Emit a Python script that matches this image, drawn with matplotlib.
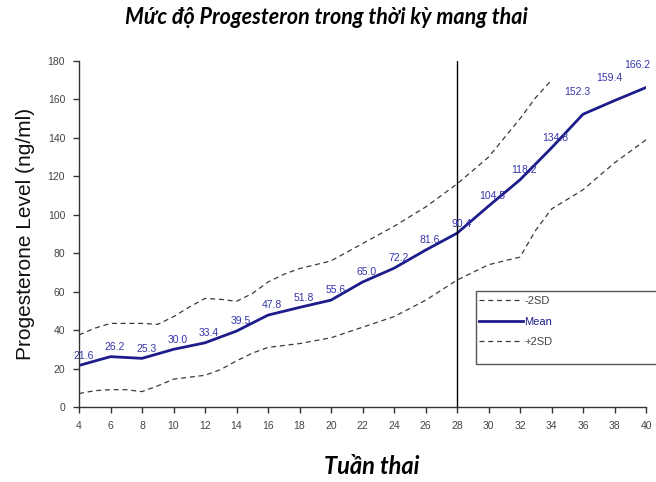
import matplotlib
matplotlib.use("Agg")
import matplotlib.pyplot as plt
from matplotlib.patches import Rectangle

# ── Data ──────────────────────────────────────────────────────────────────────
weeks = [4, 6, 8, 10, 12, 14, 16, 18, 20, 22, 24, 26, 28, 30, 32, 34, 36, 38, 40]
mean_vals = [21.6, 26.2, 25.3, 30.0, 33.4, 39.5, 47.8, 51.8, 55.6, 65.0,
             72.2, 81.6, 90.4, 104.5, 118.2, 134.8, 152.3, 159.4, 166.2]

upper_weeks = [4, 5, 6, 8, 9, 10, 11, 12, 13, 14, 15, 16, 17, 18, 19, 20,
               22, 24, 26, 28, 30, 32, 33, 34]
upper_vals = [37.5, 41, 43.5, 43.5, 43, 47, 52, 56.5, 56, 55, 59, 65, 69, 72,
              74, 76, 85, 94, 104, 116, 130, 150, 161, 170]

lower_weeks = [4, 5, 6, 7, 8, 9, 10, 12, 13, 14, 15, 16, 18, 20, 22, 24, 26,
               28, 30, 32, 33, 34, 36, 38, 40]
lower_vals = [7, 8.5, 9, 9, 8, 11, 14.5, 16.5, 19.5, 24, 28, 31, 33, 36, 41.5,
              47, 55.5, 66, 74, 78, 92, 103, 113, 127, 139]

y_ticks = [0, 20, 40, 60, 80, 100, 120, 140, 160, 180]
marker_week = 28

# ── Figure ────────────────────────────────────────────────────────────────────
fig = plt.figure(figsize=(6.56, 4.82), dpi=100)
ax = fig.add_axes([79 / 656, 75 / 482, 567 / 656, 346 / 482])

navy = "#1c1c8a"
grey = "#444444"

ax.plot(lower_weeks, lower_vals, color="#3a3a3a", linewidth=0.9,
        linestyle=(0, (4, 3)), label="-2SD")
ax.plot(weeks, mean_vals, color=navy, linewidth=2.0, label="Mean")
ax.plot(upper_weeks, upper_vals, color="#3a3a3a", linewidth=0.9,
        linestyle=(0, (4, 3)), label="+2SD")
ax.axvline(marker_week, color="black", linewidth=1.0)

# value labels; the last few sit higher and a bit to the left in the source
for w, v in zip(weeks, mean_vals):
    off = (-4, 16) if v > 150 else (3, 7)
    if w == weeks[-1]:
        off = (-6, 16)
    ax.annotate(f"{v:.1f}", (w, v), xytext=off, textcoords="offset points",
                ha="center", va="center", fontsize=7.5, color="#3535a8",
                family="Liberation Sans", annotation_clip=False)

ax.set_xlim(4, 40)
ax.set_ylim(0, 180)
ax.set_xticks(weeks)
ax.set_xticklabels([str(w) for w in weeks])
ax.set_yticks(y_ticks)
for s in ("top", "right"):
    ax.spines[s].set_visible(False)
for s in ("left", "bottom"):
    ax.spines[s].set_color("#333333")
    ax.spines[s].set_linewidth(1.0)
ax.tick_params(axis="both", direction="out", length=4, width=1, colors="#333333",
               labelsize=7.5, labelcolor=grey, pad=6)
for lbl in ax.get_xticklabels() + ax.get_yticklabels():
    lbl.set_family("Liberation Sans")

ax.set_ylabel("Progesterone Level (ng/ml)", fontsize=15, family="Liberation Sans",
              color="#111111", labelpad=9)
fig.text(372 / 656, 1 - 466 / 482, "Tuần thai", ha="center", va="center",
         fontsize=17, fontweight="bold", fontstyle="italic", family="Lato")
fig.text(326 / 656, 1 - 18 / 482, "Mức độ Progesteron trong thời kỳ mang thai",
         ha="center", va="center", fontsize=15.5, fontweight="bold",
         fontstyle="italic", family="Lato")

# legend box runs off the right edge like the source
fig.patches.append(Rectangle((476 / 656, 118 / 482), 300 / 656, 73 / 482,
                             transform=fig.transFigure, fill=False,
                             edgecolor="#555555", linewidth=1.0, clip_on=False))
leg = fig.legend(loc="upper left", bbox_to_anchor=(479 / 656, 1 - 296 / 482),
                 frameon=False, handlelength=4.0, handletextpad=0.1,
                 labelspacing=0.95, borderpad=0, borderaxespad=0,
                 prop={"family": "Liberation Sans", "size": 8})
for t in leg.get_texts():
    t.set_color(navy if t.get_text() == "Mean" else grey)

fig.savefig("out.png", dpi=100)
